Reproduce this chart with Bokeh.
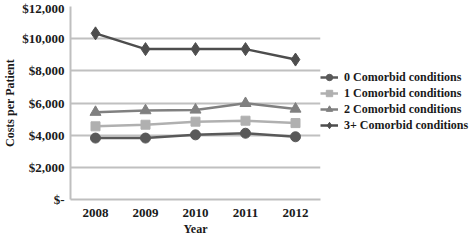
from bokeh.plotting import figure
from bokeh.models import FixedTicker, Legend, LegendItem
from bokeh.embed import file_html
from bokeh.resources import INLINE

years = ["2008", "2009", "2010", "2011", "2012"]
series_names = ["0 Comorbid conditions", "1 Comorbid conditions",
                "2 Comorbid conditions", "3+ Comorbid conditions"]
cost_0 = [3820, 3820, 4020, 4120, 3900]
cost_1 = [4550, 4650, 4840, 4900, 4750]
cost_2 = [5430, 5530, 5570, 5980, 5630]
cost_3 = [10330, 9350, 9350, 9350, 8700]
y_ticks = [0, 2000, 4000, 6000, 8000, 10000, 12000]
y_tick_labels = ["$-", "$2,000", "$4,000", "$6,000", "$8,000", "$10,000", "$12,000"]

FONT = "Liberation Serif"
TXT = "#1a1a1a"

p = figure(x_range=years, y_range=(0, 12000), frame_width=250, frame_height=193,
           output_backend="svg", toolbar_location=None,
           min_border_left=0, min_border_right=0, min_border_top=6, min_border_bottom=0)
p.outline_line_color = None
p.background_fill_color = "white"

styles = [
    (cost_0, "#595959", "circle", 10),
    (cost_1, "#B0B0B0", "square", 9),
    (cost_2, "#808080", "triangle", 11),
    (cost_3, "#4D4D4D", "diamond", 13),
]
items = []
for (vals, col, mk, sz), name in zip(styles, series_names):
    l = p.line(years, vals, line_color=col, line_width=2.5)
    s = p.scatter(years, vals, marker=mk, size=sz, fill_color=col, line_color=col)
    items.append(LegendItem(label=name, renderers=[l, s]))

legend = Legend(items=items, location=(0, 66), border_line_color=None,
                background_fill_alpha=0, label_text_font=FONT,
                label_text_font_style="bold", label_text_font_size="12px",
                label_text_color=TXT, glyph_width=18, glyph_height=16,
                label_height=16, label_standoff=6, spacing=0, padding=0, margin=3)
p.add_layout(legend, "right")

p.yaxis.ticker = FixedTicker(ticks=y_ticks)
p.yaxis.major_label_overrides = {t: lab for t, lab in zip(y_ticks, y_tick_labels)}
p.yaxis.axis_label = "Costs per Patient"
p.xaxis.axis_label = "Year"
for ax in (p.xaxis, p.yaxis):
    ax.major_tick_line_color = None
    ax.minor_tick_line_color = None
    ax.major_tick_out = 0
    ax.major_tick_in = 0
    ax.axis_label_text_font = FONT
    ax.axis_label_text_font_style = "bold"
    ax.axis_label_text_font_size = "12px"
    ax.axis_label_text_color = TXT
    ax.major_label_text_font = FONT
    ax.major_label_text_font_style = "bold"
    ax.major_label_text_font_size = "13px"
    ax.major_label_text_color = TXT
    ax.axis_label_standoff = 2
p.yaxis.axis_line_color = "#BFBFBF"
p.yaxis.axis_line_width = 2
p.yaxis.major_label_standoff = 6
p.xaxis.axis_line_color = "#BFBFBF"
p.xaxis.axis_line_width = 2
p.xaxis.major_label_standoff = 9
p.xgrid.grid_line_color = None
p.ygrid.grid_line_color = "#C0C0C0"
p.ygrid.grid_line_width = 2

open("out.html", "w").write(file_html(p, INLINE))
